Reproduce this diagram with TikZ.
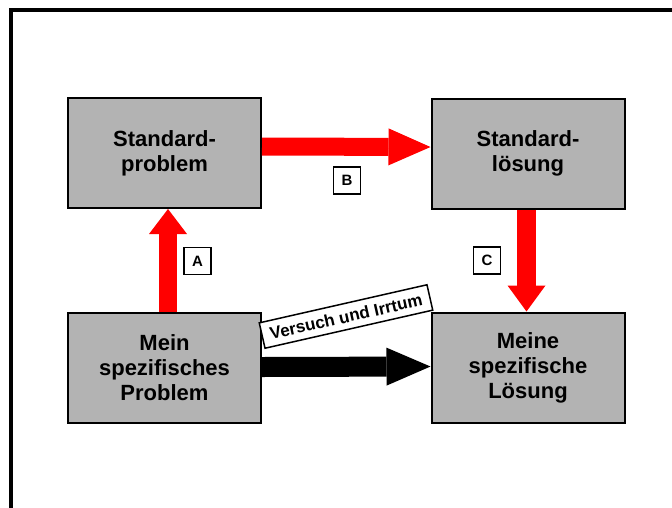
\documentclass[tikz,border=0pt]{standalone}
\usepackage{fontspec}
\setmainfont{Liberation Sans}
\usetikzlibrary{arrows.meta}
\definecolor{boxgray}{RGB}{179,179,179}
\definecolor{flowred}{RGB}{255,0,0}
\tikzset{
  stepbox/.style={draw=black, line width=2pt, fill=boxgray, minimum width=193pt,
    minimum height=110pt, align=center, inner sep=0pt,
    font=\fontsize{22}{25}\selectfont\bfseries},
  tag/.style={draw=black, line width=1.5pt, fill=white, minimum width=27pt,
    minimum height=27pt, inner sep=0pt, font=\fontsize{15}{17}\selectfont\bfseries},
  blockarrow/.style={line width=#1, line cap=butt},
  redflow/.style={blockarrow=18pt, draw=flowred},
  blackflow/.style={blockarrow=20pt, draw=black}
}
\begin{document}
\begin{tikzpicture}[x=1pt, y=-1pt]
  \useasboundingbox (0,0) rectangle (672,507);
  % outer frame (only top and left edges lie inside the page)
  \draw[line width=4pt, line join=miter] (11,520) -- (11,10) -- (690,10);

  % the four problem / solution boxes
  \node[stepbox] (sp) at (164.5,153) {Standard-\\problem};
  \node[stepbox] (sl) at (528,153.5) {Standard-\\lösung};
  \node[stepbox] (mp) at (164.5,368) {Mein\\spezifisches\\Problem};
  \node[stepbox] (ml) at (528,367.5) {Meine\\spezifische\\Lösung};

  % A: abstract the own problem to a standard problem
  \draw[redflow, -{Triangle[width=38pt,length=25pt,line width=0pt]}]
    ([xshift=3.5pt]mp.north) -- ([xshift=3.5pt]sp.south);
  % B: standard problem to standard solution
  \draw[redflow, -{Triangle[width=37pt,length=42pt,line width=0pt]}]
    ([yshift=6.5pt]sp.east) -- ([yshift=6.5pt]sl.west);
  % C: specialise the standard solution
  \draw[redflow, line width=19pt, -{Triangle[width=38pt,length=26pt,line width=0pt]}]
    ([xshift=-1.5pt]sl.south) -- ([xshift=-1.5pt]ml.north);
  % direct route by trial and error
  \draw[blackflow, -{Triangle[width=38pt,length=44pt,line width=0pt]}]
    ([yshift=1pt]mp.east) -- ([yshift=1pt]ml.west);

  % step tags
  \node[tag] (ta) at (197.5,261) {A};
  \node[tag] (tb) at (347,180.5) {B};
  \node[tag] (tc) at (487,260.5) {C};

  % label of the direct route
  \node[draw=black, line width=1.5pt, fill=white, rotate=12.8, minimum width=172pt,
    minimum height=26pt, inner sep=0pt, font=\fontsize{17}{19}\selectfont\bfseries]
    (tr) at (346,316.5) {Versuch und Irrtum};
\end{tikzpicture}
\end{document}
